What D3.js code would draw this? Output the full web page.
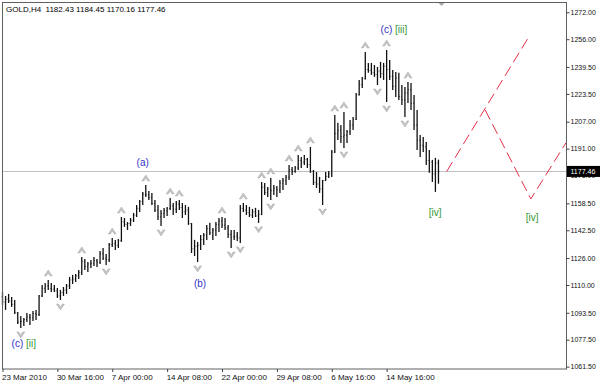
<!DOCTYPE html>
<html lang="en">
<head>
  <meta charset="UTF-8">
  <script src="https://d3js.org/d3.v7.min.js"></script>
  <title>GOLD,H4</title>
  <style>
    body { margin: 0; background: #fff; }
    svg { display: block; font-family: "Liberation Sans", Arial, sans-serif; }
  </style>
</head>
<body>
  <div id="chart"></div>
  <script>
    // H4 bars
    const opens = [1103.0,1100.0,1101.5,1100.5,1098.5,1093.5,1088.0,1088.5,1089.5,1091.0,
      1090.5,1093.0,1092.5,1103.5,1108.0,1109.5,1108.0,1107.5,1106.5,1103.5,
      1105.5,1107.0,1109.5,1113.0,1113.5,1115.5,1117.5,1124.0,1121.0,1122.5,
      1123.0,1124.5,1123.5,1128.5,1126.0,1125.0,1134.0,1134.5,1133.5,1136.5,
      1147.5,1146.0,1146.5,1148.5,1151.5,1155.5,1159.5,1164.0,1163.5,1162.0,
      1158.5,1154.5,1150.5,1152.5,1154.0,1155.5,1157.0,1155.0,1158.0,1156.0,
      1153.5,1154.5,1146.5,1131.5,1133.0,1133.5,1137.0,1139.5,1143.5,1141.0,
      1142.5,1146.0,1148.0,1145.5,1144.0,1140.0,1138.5,1139.0,1138.0,1155.5,
      1154.5,1153.0,1151.5,1153.5,1151.0,1152.0,1168.0,1165.0,1167.0,1166.0,
      1167.5,1166.5,1170.5,1172.0,1174.0,1178.5,1177.5,1179.5,1184.0,1183.0,
      1184.5,1181.5,1177.5,1171.0,1170.0,1167.0,1172.0,1174.5,1176.0,1189.0,
      1200.0,1202.0,1198.0,1199.0,1201.0,1205.0,1208.5,1223.0,1229.0,1232.5,
      1238.0,1237.5,1236.0,1235.0,1237.0,1235.5,1240.0,1238.0,1234.0,1228.0,
      1233.0,1222.0,1220.0,1224.0,1226.0,1218.0,1205.0,1196.0,1193.0,1192.0,
      1184.0,1183.0,1176.0,1182.43];
    const highs = [1105.9,1103.5,1104.7,1102.9,1101.1,1094.0,1091.6,1090.4,1093.4,1092.8,
      1094.6,1095.2,1104.1,1110.0,1111.2,1113.0,1111.2,1110.0,1108.2,1107.1,
      1108.8,1110.6,1114.8,1116.0,1116.6,1118.9,1126.7,1125.5,1123.7,1124.9,
      1126.7,1125.5,1130.2,1132.0,1128.4,1135.0,1137.9,1136.8,1137.3,1150.4,
      1149.8,1147.4,1149.8,1152.8,1157.5,1160.5,1165.3,1169.4,1165.9,1164.7,
      1160.5,1157.5,1154.6,1155.8,1156.4,1161.7,1158.7,1159.9,1160.5,1158.7,
      1157.5,1156.4,1146.8,1136.8,1135.6,1139.7,1140.9,1145.7,1146.9,1143.9,
      1147.4,1149.8,1150.4,1149.8,1145.7,1142.7,1142.7,1141.5,1157.5,1158.7,
      1157.5,1156.4,1155.2,1155.8,1154.6,1171.2,1170.6,1168.2,1173.6,1169.4,
      1168.8,1172.4,1173.6,1175.4,1181.3,1180.1,1180.7,1187.2,1186.1,1187.2,
      1185.5,1192.0,1178.3,1177.1,1174.2,1172.4,1177.1,1177.7,1190.2,1211.0,
      1206.3,1205.1,1212.8,1202.1,1208.0,1209.8,1224.1,1231.8,1233.6,1248.4,
      1241.9,1241.9,1240.7,1239.5,1242.5,1241.9,1249.6,1243.7,1237.7,1236.5,
      1236.0,1228.8,1227.6,1230.6,1230.0,1222.9,1214.0,1199.1,1197.9,1195.0,
      1190.2,1184.3,1185.5,1184.45];
    const lows = [1098.1,1095.2,1099.3,1097.0,1092.8,1086.9,1084.5,1085.7,1088.0,1086.3,
      1088.6,1089.2,1091.6,1102.9,1105.3,1107.1,1105.9,1105.9,1102.3,1101.1,
      1103.5,1104.7,1107.6,1110.6,1111.8,1113.6,1116.0,1118.9,1117.7,1120.1,
      1121.3,1120.7,1122.5,1124.9,1121.9,1123.7,1132.6,1130.8,1132.0,1135.6,
      1144.5,1142.7,1145.1,1147.4,1150.4,1153.4,1157.5,1162.3,1160.5,1157.5,
      1153.4,1148.6,1145.1,1149.8,1151.0,1154.6,1151.6,1152.8,1154.6,1149.8,
      1151.6,1145.7,1129.0,1127.2,1123.7,1130.8,1133.8,1136.8,1139.7,1136.8,
      1139.1,1141.5,1143.9,1142.7,1137.9,1132.0,1136.8,1136.2,1135.0,1153.4,
      1151.6,1150.4,1149.8,1150.4,1146.9,1151.5,1163.5,1162.3,1160.5,1163.5,
      1162.3,1164.7,1166.5,1169.4,1172.4,1175.4,1176.6,1178.3,1179.5,1181.3,
      1179.5,1176.6,1169.4,1167.6,1164.7,1157.5,1171.8,1173.6,1174.2,1188.4,
      1196.2,1194.4,1191.4,1194.4,1199.1,1202.1,1208.0,1222.5,1227.0,1232.0,
      1236.0,1234.8,1233.6,1228.8,1233.0,1231.8,1218.7,1231.8,1225.9,1221.7,
      1219.9,1216.9,1209.8,1218.1,1214.0,1202.1,1190.2,1186.1,1189.0,1181.3,
      1176.6,1171.2,1165.3,1170.16];
    const closes = [1100.0,1101.5,1100.5,1098.5,1093.5,1088.0,1088.5,1089.5,1091.0,1090.5,
      1093.0,1092.5,1103.5,1108.0,1109.5,1108.0,1107.5,1106.5,1103.5,1105.5,
      1107.0,1109.5,1113.0,1113.5,1115.5,1117.5,1124.0,1121.0,1122.5,1123.0,
      1124.5,1123.5,1128.5,1126.0,1125.0,1134.0,1134.5,1133.5,1136.5,1147.5,
      1146.0,1146.5,1148.5,1151.5,1155.5,1159.5,1164.0,1163.5,1162.0,1158.5,
      1154.5,1150.5,1152.5,1154.0,1155.5,1157.0,1155.0,1158.0,1156.0,1153.5,
      1154.5,1146.5,1131.5,1133.0,1133.5,1137.0,1139.5,1143.5,1141.0,1142.5,
      1146.0,1148.0,1145.5,1144.0,1140.0,1138.5,1139.0,1138.0,1155.5,1154.5,
      1153.0,1151.5,1153.5,1151.0,1152.0,1168.0,1165.0,1167.0,1166.0,1167.5,
      1166.5,1170.5,1172.0,1174.0,1178.5,1177.5,1179.5,1184.0,1183.0,1184.5,
      1181.5,1177.5,1171.0,1170.0,1167.0,1172.0,1174.5,1176.0,1189.0,1200.0,
      1202.0,1198.0,1199.0,1201.0,1205.0,1208.5,1223.0,1229.0,1232.5,1238.0,
      1237.5,1236.0,1235.0,1237.0,1235.5,1240.0,1238.0,1234.0,1228.0,1233.0,
      1222.0,1220.0,1224.0,1226.0,1218.0,1205.0,1196.0,1193.0,1192.0,1184.0,
      1183.0,1176.0,1182.4,1177.46];

    const time_labels = ["23 Mar 2010", "30 Mar 16:00", "7 Apr 00:00", "14 Apr 08:00",
      "22 Apr 00:00", "29 Apr 08:00", "6 May 16:00", "14 May 16:00"];
    const time_label_bars = [0, 18, 36, 54, 72, 90, 108, 126];
    const price_ticks = [1272.00, 1256.00, 1239.50, 1223.50, 1207.00, 1191.00, 1175.00,
      1158.50, 1142.50, 1126.00, 1110.00, 1093.50, 1077.50, 1061.50];
    const last_price = 1177.46;

    // red dashed projections: [bar, price]
    const forecast_main = [[145.7, 1177.46], [172.4, 1256.7]];
    const forecast_alt = [[158.3, 1214.0], [173.3, 1161.1], [184.8, 1194.4]];

    // wave labels: [bar, price, [text, colour]...]
    const blue = "#3333cc", green = "#339933";
    const wave_labels = [
      [46, 1182.5, [["(a)", blue]]],
      [64.8, 1110.6, [["(b)", blue]]],
      [7, 1075.0, [["(c) ", blue], ["[ii]", green]]],
      [128.4, 1261.5, [["(c) ", blue], ["[iii]", green]]],
      [141.9, 1152.8, [["[iv]", green]]],
      [173.7, 1149.8, [["[iv]", green]]]
    ];

    const svg_width = 600, svg_height = 385;
    const plot_left = 2.5, plot_right = 566.5, plot_top = 2.5, plot_bottom = 369;

    const svg = d3.select("#chart").append("svg")
      .attr("width", svg_width)
      .attr("height", svg_height);

    const x = d3.scaleLinear().domain([0, 185]).range([plot_left, plot_right]);
    const y = d3.scaleLinear().domain([1060.1, 1278.1]).range([plot_bottom, 2]);

    // title
    svg.append("text")
      .attr("x", 6).attr("y", 11.5)
      .attr("font-size", 8)
      .attr("fill", "#000")
      .style("white-space", "pre")
      .text("GOLD,H4  1182.43 1184.45 1170.16 1177.46");

    // current price line
    const yp = y(last_price);
    svg.append("line")
      .attr("x1", plot_left).attr("x2", plot_right)
      .attr("y1", Math.round(yp) + 0.5).attr("y2", Math.round(yp) + 0.5)
      .attr("stroke", "#c0c0c0");

    // fractals
    const n = highs.length;
    const up_fr = [], down_fr = [];
    for (let i = 2; i < n - 2; i++) {
      if (highs[i] > highs[i - 1] && highs[i] > highs[i - 2] && highs[i] >= highs[i + 1] && highs[i] >= highs[i + 2]) up_fr.push(i);
      if (lows[i] < lows[i - 1] && lows[i] < lows[i - 2] && lows[i] <= lows[i + 1] && lows[i] <= lows[i + 2]) down_fr.push(i);
    }
    const arrow_up = "M-4,3 L0,-3 L4,3 L2,3 L0,0 L-2,3 Z";
    const arrow_down = "M-4,-3 L0,3 L4,-3 L2,-3 L0,0 L-2,-3 Z";
    svg.append("g").selectAll("path").data(up_fr).enter().append("path")
      .attr("d", arrow_up)
      .attr("transform", i => `translate(${x(i)},${y(highs[i]) - 7})`)
      .attr("fill", "#c4c4c4").attr("stroke", "#a8a8a8").attr("stroke-width", 0.5);
    svg.append("g").selectAll("path").data(down_fr).enter().append("path")
      .attr("d", arrow_down)
      .attr("transform", i => `translate(${x(i)},${y(lows[i]) + 7})`)
      .attr("fill", "#c4c4c4").attr("stroke", "#a8a8a8").attr("stroke-width", 0.5);

    // bars
    const bars = svg.append("g").attr("stroke", "#111");
    d3.range(n).forEach(i => {
      const cx = x(i);
      bars.append("line").attr("x1", cx).attr("x2", cx)
        .attr("y1", y(highs[i])).attr("y2", y(lows[i])).attr("stroke-width", 1.3);
      bars.append("line").attr("x1", cx - 0.9).attr("x2", cx)
        .attr("y1", y(opens[i])).attr("y2", y(opens[i])).attr("stroke-width", 0.8);
      bars.append("line").attr("x1", cx).attr("x2", cx + 0.9)
        .attr("y1", y(closes[i])).attr("y2", y(closes[i])).attr("stroke-width", 0.8);
    });

    // forecast lines
    const line = d3.line().x(d => x(d[0])).y(d => y(d[1]));
    [forecast_main, forecast_alt].forEach(f => {
      svg.append("path")
        .attr("d", line(f))
        .attr("fill", "none")
        .attr("stroke", "#e5304a")
        .attr("stroke-width", 1)
        .attr("stroke-dasharray", "11,5");
    });

    // wave labels
    wave_labels.forEach(w => {
      const t = svg.append("text")
        .attr("x", x(w[0])).attr("y", y(w[1]))
        .attr("dy", "0.35em")
        .attr("text-anchor", "middle")
        .attr("font-size", 10)
        .style("white-space", "pre");
      w[2].forEach(p => t.append("tspan").attr("fill", p[1]).text(p[0]));
    });

    // chart shift marker
    svg.append("path")
      .attr("d", `M${x(144) - 4},2 L${x(144) + 4},2 L${x(144)},6 Z`)
      .attr("fill", "#a8a8a8");

    // frame
    svg.append("rect")
      .attr("x", plot_left).attr("y", plot_top)
      .attr("width", plot_right - plot_left).attr("height", plot_bottom - plot_top)
      .attr("fill", "none").attr("stroke", "#606060");

    // price axis
    const yAxis = svg.append("g")
      .attr("transform", `translate(${plot_right},0)`)
      .call(d3.axisRight(y).tickValues(price_ticks).tickSize(3).tickSizeOuter(0)
        .tickFormat(d3.format(".2f")));
    yAxis.select(".domain").remove();
    yAxis.selectAll("line").attr("stroke", "#404040");
    yAxis.selectAll("text").attr("font-size", 7).attr("fill", "#111")
      .attr("font-family", "Liberation Sans, Arial, sans-serif").attr("x", 4);

    // time axis
    const xAxis = svg.append("g")
      .attr("transform", `translate(0,${plot_bottom})`)
      .call(d3.axisBottom(x).tickValues(time_label_bars).tickSize(3).tickSizeOuter(0)
        .tickFormat((d, i) => time_labels[i]));
    xAxis.select(".domain").remove();
    xAxis.selectAll("line").attr("stroke", "#404040");
    xAxis.selectAll("text").attr("font-size", 8).attr("fill", "#111")
      .attr("font-family", "Liberation Sans, Arial, sans-serif")
      .attr("text-anchor", "start").attr("x", -1).attr("y", 5).attr("dy", "0.71em");

    // last price box
    svg.append("rect")
      .attr("x", plot_right + 0.5).attr("y", yp - 5.5)
      .attr("width", svg_width - plot_right).attr("height", 11)
      .attr("fill", "#000");
    svg.append("text")
      .attr("x", plot_right + 4).attr("y", yp)
      .attr("dy", "0.35em")
      .attr("font-size", 7)
      .attr("fill", "#fff")
      .text(last_price.toFixed(2));
  </script>
</body>
</html>
